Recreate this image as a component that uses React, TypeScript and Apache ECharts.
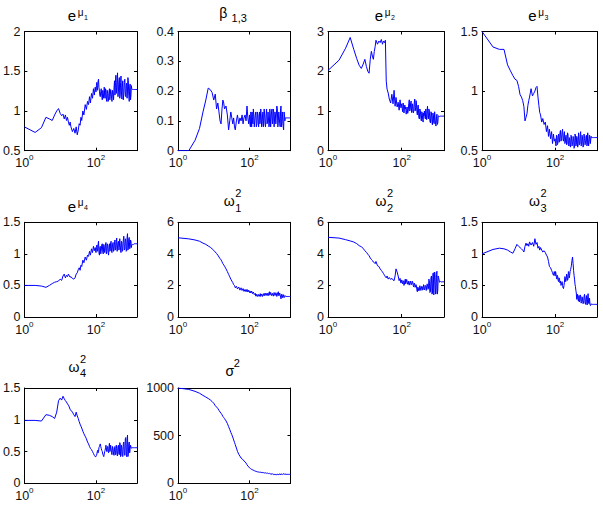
import React, { useEffect, useRef } from "react";
import * as echarts from "echarts";

// ---------- DATA ----------
const iterations = [
  1, 2, 3, 4, 5, 6, 7, 8, 9, 10,
  11, 12, 13, 14, 15, 16, 17, 18, 19, 20,
  22, 24, 26, 28, 30, 32, 34, 36, 38, 40,
  43, 46, 50, 54, 58, 62, 66, 70, 75, 80,
  85, 90, 95,
  100, 103, 106, 109, 112, 115, 118, 121, 125, 128,
  132, 136, 140, 145, 150, 155, 160, 165, 170, 175,
  180, 185, 190, 195, 200, 206, 212, 218, 225, 231,
  238, 244, 250, 257, 265, 272, 280, 290, 300, 310,
  320, 330, 340, 350, 360, 370, 380, 390, 400, 412,
  425, 437, 450, 462, 475, 487, 500, 515, 530, 545,
  560, 580, 600, 620, 640, 660, 680, 700, 720, 740,
  760, 780, 800, 825, 850, 875, 900, 925, 950, 975,
  1000, 1060, 1120, 1180, 1250, 1320, 1400,
];

const eMu1 = [
  0.8, 0.73, 0.79, 0.92, 0.9, 0.88, 0.95, 1.0, 1.03, 0.97,
  0.94, 0.96, 0.9, 0.95, 0.88, 0.92, 0.86, 0.82, 0.86, 0.8,
  0.74, 0.78, 0.72, 0.8, 0.7, 0.76, 0.84, 0.82, 0.92, 0.88,
  1.0, 0.95, 1.08, 1.02, 1.12, 1.08, 1.18, 1.1, 1.22, 1.16,
  1.28, 1.2, 1.3,
  1.24, 1.32, 1.36, 1.26, 1.3, 1.38, 1.4, 1.3, 1.25, 1.2,
  1.18, 1.24, 1.28, 1.2, 1.14, 1.26, 1.22, 1.16, 1.3, 1.2,
  1.16, 1.28, 1.26, 1.15, 1.12, 1.26, 1.22, 1.12, 1.15, 1.24,
  1.28, 1.14, 1.18, 1.27, 1.24, 1.16, 1.12, 1.26, 1.22, 1.14,
  1.3, 1.38, 1.2, 1.36, 1.45, 1.22, 1.3, 1.4, 1.48, 1.18,
  1.25, 1.38, 1.42, 1.16, 1.2, 1.36, 1.44, 1.24, 1.15, 1.3,
  1.38, 1.14, 1.22, 1.36, 1.4, 1.2, 1.18, 1.32, 1.35, 1.16,
  1.25, 1.42, 1.38, 1.2, 1.12, 1.3, 1.34, 1.14, 1.2, 1.32,
  1.28, 1.27, 1.27, 1.27, 1.27, 1.27, 1.27,
];

const beta13 = [
  0, 0, 0.035, 0.075, 0.13, 0.17, 0.21, 0.205, 0.195, 0.17,
  0.19, 0.14, 0.16, 0.13, 0.1, 0.09, 0.14, 0.17, 0.16, 0.14,
  0.15, 0.12, 0.07, 0.1, 0.13, 0.11, 0.09, 0.11, 0.08, 0.07,
  0.1, 0.12, 0.09, 0.11, 0.1, 0.12, 0.09, 0.11, 0.12, 0.1,
  0.15, 0.11, 0.09,
  0.12, 0.09, 0.08, 0.13, 0.11, 0.08, 0.13, 0.1, 0.09, 0.14,
  0.12, 0.08, 0.1, 0.12, 0.13, 0.08, 0.09, 0.13, 0.12, 0.09,
  0.08, 0.12, 0.13, 0.09, 0.1, 0.14, 0.12, 0.08, 0.09, 0.12,
  0.13, 0.08, 0.1, 0.14, 0.12, 0.09, 0.08, 0.12, 0.14, 0.09,
  0.1, 0.13, 0.13, 0.08, 0.09, 0.14, 0.12, 0.08, 0.08, 0.13,
  0.14, 0.09, 0.1, 0.14, 0.13, 0.08, 0.08, 0.13, 0.12, 0.09,
  0.09, 0.15, 0.14, 0.08, 0.1, 0.13, 0.13, 0.09, 0.08, 0.14,
  0.15, 0.08, 0.09, 0.13, 0.13, 0.08, 0.07, 0.13, 0.12, 0.1,
  0.11, 0.11, 0.11, 0.11, 0.11, 0.11, 0.11,
];

const eMu2 = [
  2.02, 2.28, 2.58, 2.85, 2.55, 2.32, 2.15, 2.07, 2.18, 2.3,
  2.12, 2.0, 1.95, 2.3, 2.5, 2.38, 2.3, 2.5, 2.62, 2.78,
  2.68, 2.76, 2.72, 2.8, 2.68, 2.76, 2.72, 2.78, 1.75, 1.55,
  1.45, 1.3, 1.2, 1.42, 1.18, 1.52, 1.12, 1.34, 1.1, 1.22,
  1.02, 1.28, 1.08,
  1.18, 1.06, 0.98, 1.2, 1.12, 0.95, 0.96, 1.15, 1.05, 1.1,
  0.92, 1.02, 1.1, 0.94, 1.0, 1.18, 1.28, 1.0, 1.05, 1.22,
  1.25, 0.96, 0.98, 1.18, 1.12, 0.95, 1.0, 1.2, 1.3, 1.0,
  1.08, 1.26, 1.22, 0.98, 0.9, 1.1, 1.15, 0.85, 0.8, 1.05,
  1.0, 0.82, 0.75, 0.98, 0.95, 0.78, 0.72, 0.95, 0.88, 1.0,
  0.85, 0.8, 1.05, 0.9, 0.78, 1.0, 1.12, 0.85, 0.8, 1.05,
  1.0, 0.75, 0.7, 0.98, 0.95, 0.72, 0.65, 0.95, 0.9, 0.7,
  0.68, 0.98, 0.85, 0.66, 0.62, 0.82, 0.92, 0.66, 0.7, 0.85,
  0.88, 0.86, 0.87, 0.87, 0.87, 0.87, 0.87,
];

const eMu3 = [
  1.5, 1.37, 1.35, 1.35, 1.22, 1.17, 1.13, 1.1, 1.09, 1.04,
  0.97, 0.95, 0.92, 0.87, 0.75, 0.78, 0.81, 0.88, 0.92, 0.95,
  1.02, 0.96, 0.98, 1.0, 1.03, 1.04, 0.95, 0.88, 0.82, 0.8,
  0.74, 0.77, 0.72, 0.74, 0.66, 0.71, 0.62, 0.68, 0.6, 0.66,
  0.56, 0.64, 0.58,
  0.6, 0.56, 0.54, 0.63, 0.62, 0.55, 0.56, 0.62, 0.64, 0.57,
  0.58, 0.65, 0.67, 0.58, 0.6, 0.66, 0.68, 0.59, 0.58, 0.64,
  0.66, 0.56, 0.57, 0.62, 0.63, 0.55, 0.56, 0.65, 0.64, 0.55,
  0.54, 0.61, 0.6, 0.54, 0.53, 0.63, 0.62, 0.54, 0.55, 0.62,
  0.6, 0.52, 0.53, 0.64, 0.63, 0.54, 0.55, 0.62, 0.61, 0.53,
  0.54, 0.65, 0.6, 0.55, 0.56, 0.64, 0.66, 0.54, 0.55, 0.63,
  0.62, 0.53, 0.54, 0.64, 0.6, 0.55, 0.56, 0.62, 0.63, 0.54,
  0.55, 0.65, 0.6, 0.54, 0.57, 0.63, 0.62, 0.56, 0.6, 0.62,
  0.61, 0.61, 0.61, 0.61, 0.61, 0.61, 0.61,
];

const eMu4 = [
  0.5, 0.5, 0.49, 0.47, 0.5, 0.53, 0.55, 0.56, 0.57, 0.6,
  0.58, 0.65, 0.68, 0.62, 0.66, 0.64, 0.68, 0.65, 0.63, 0.64,
  0.61, 0.6, 0.62, 0.68, 0.7, 0.75, 0.78, 0.74, 0.82, 0.8,
  0.9, 0.86, 0.95, 0.9, 0.98, 0.96, 1.04, 0.98, 1.08, 1.02,
  1.12, 1.05, 1.1,
  1.02, 1.1, 1.14, 1.04, 1.06, 1.16, 1.2, 1.02, 0.98, 1.1,
  1.12, 1.0, 1.04, 1.14, 1.16, 1.02, 1.0, 1.15, 1.12, 1.02,
  1.06, 1.16, 1.18, 1.0, 1.04, 1.16, 1.14, 1.02, 0.98, 1.12,
  1.16, 1.04, 1.05, 1.18, 1.2, 1.04, 1.02, 1.14, 1.18, 1.04,
  1.06, 1.2, 1.22, 1.06, 1.08, 1.2, 1.25, 1.04, 1.04, 1.18,
  1.2, 1.06, 1.1, 1.24, 1.24, 1.06, 1.02, 1.2, 1.18, 1.04,
  1.06, 1.22, 1.28, 1.06, 1.08, 1.24, 1.22, 1.04, 1.05, 1.26,
  1.32, 1.06, 1.08, 1.24, 1.26, 1.08, 1.1, 1.22, 1.2, 1.1,
  1.14, 1.15, 1.15, 1.16, 1.16, 1.16, 1.16,
];

const omega1Sq = [
  5.02, 4.95, 4.88, 4.8, 4.68, 4.6, 4.5, 4.42, 4.32, 4.22,
  4.12, 4.02, 3.92, 3.8, 3.7, 3.62, 3.5, 3.38, 3.3, 3.22,
  3.05, 2.88, 2.7, 2.55, 2.4, 2.28, 2.18, 2.05, 2.0, 1.85,
  1.95, 1.78, 1.9, 1.7, 1.85, 1.68, 1.8, 1.62, 1.75, 1.6,
  1.75, 1.58, 1.7,
  1.55, 1.65, 1.68, 1.52, 1.5, 1.64, 1.62, 1.48, 1.45, 1.58,
  1.55, 1.42, 1.4, 1.5, 1.32, 1.44, 1.45, 1.3, 1.3, 1.44,
  1.42, 1.3, 1.28, 1.42, 1.48, 1.3, 1.3, 1.46, 1.45, 1.3,
  1.32, 1.48, 1.5, 1.34, 1.35, 1.52, 1.55, 1.36, 1.38, 1.52,
  1.5, 1.34, 1.32, 1.54, 1.6, 1.38, 1.4, 1.56, 1.55, 1.36,
  1.35, 1.5, 1.52, 1.32, 1.3, 1.55, 1.58, 1.36, 1.4, 1.54,
  1.5, 1.3, 1.28, 1.55, 1.6, 1.34, 1.35, 1.52, 1.5, 1.25,
  1.15, 1.4, 1.45, 1.22, 1.2, 1.42, 1.4, 1.22, 1.3, 1.36,
  1.32, 1.3, 1.3, 1.3, 1.3, 1.3, 1.3,
];

const omega2Sq = [
  5.05, 5.0, 4.9, 4.82, 4.75, 4.65, 4.52, 4.45, 4.35, 4.2,
  4.1, 3.98, 3.88, 3.74, 3.65, 3.58, 3.48, 3.45, 3.38, 3.52,
  3.25, 3.2, 3.05, 2.95, 2.86, 2.75, 2.65, 2.55, 2.48, 2.6,
  2.4, 2.5, 2.38, 2.45, 2.35, 2.3, 2.6, 3.05, 2.85, 2.6,
  2.3, 2.45, 2.15,
  2.35, 2.15, 2.1, 2.3, 2.2, 2.0, 2.05, 2.3, 2.4, 2.1,
  2.2, 2.38, 2.35, 2.08, 2.05, 2.28, 2.25, 2.02, 2.0, 2.28,
  2.3, 2.05, 2.1, 2.26, 2.2, 1.95, 1.9, 2.15, 2.1, 1.88,
  1.85, 2.05, 2.0, 1.72, 1.6, 1.9, 1.85, 1.65, 1.7, 1.98,
  1.95, 1.68, 1.65, 1.95, 1.9, 1.7, 1.75, 2.05, 2.0, 1.72,
  1.8, 2.0, 1.95, 1.68, 1.7, 2.1, 2.05, 1.75, 1.8, 2.4,
  2.3, 1.55, 1.6, 2.5, 2.6, 1.45, 1.5, 2.75, 2.8, 1.4,
  1.4, 2.85, 2.7, 1.45, 1.5, 2.7, 2.9, 1.45, 1.7, 2.6,
  2.5, 2.2, 2.25, 2.22, 2.23, 2.23, 2.23,
];

const omega3Sq = [
  1.0, 1.07, 1.09, 1.08, 1.06, 1.03, 1.01, 1.08, 1.15, 1.12,
  1.1, 1.08, 1.06, 1.03, 1.12, 1.17, 1.13, 1.16, 1.12, 1.19,
  1.14, 1.18, 1.12, 1.24, 1.15, 1.18, 1.09, 1.12, 1.06, 1.1,
  1.06, 1.03, 1.05, 1.02, 0.98, 0.95, 0.88, 0.8, 0.78, 0.74,
  0.7, 0.66, 0.72,
  0.65, 0.72, 0.68, 0.62, 0.6, 0.66, 0.64, 0.58, 0.56, 0.62,
  0.6, 0.54, 0.57, 0.5, 0.52, 0.56, 0.5, 0.46, 0.45, 0.5,
  0.55, 0.64, 0.62, 0.56, 0.58, 0.68, 0.66, 0.58, 0.6, 0.72,
  0.7, 0.62, 0.66, 0.72, 0.75, 0.78, 0.82, 0.9, 0.95, 0.85,
  0.74, 0.66, 0.6, 0.52, 0.48, 0.42, 0.38, 0.28, 0.3, 0.36,
  0.27, 0.25, 0.34, 0.24, 0.26, 0.35, 0.33, 0.22, 0.24, 0.32,
  0.3, 0.21, 0.22, 0.33, 0.36, 0.22, 0.2, 0.3, 0.34, 0.2,
  0.19, 0.32, 0.37, 0.22, 0.21, 0.3, 0.2, 0.18, 0.19, 0.21,
  0.2, 0.2, 0.2, 0.2, 0.2, 0.2, 0.2,
];

const omega4Sq = [
  0.99, 0.99, 0.98, 1.08, 1.07, 1.05, 1.02, 1.12, 1.3, 1.34,
  1.31, 1.37, 1.33, 1.3, 1.28, 1.25, 1.23, 1.2, 1.16, 1.15,
  1.12, 1.08, 1.05, 1.12, 1.06, 1.02, 0.97, 0.93, 0.9, 0.87,
  0.82, 0.78, 0.74, 0.7, 0.65, 0.62, 0.58, 0.55, 0.53, 0.5,
  0.47, 0.44, 0.42,
  0.42, 0.44, 0.46, 0.5, 0.52, 0.48, 0.5, 0.56, 0.58, 0.6,
  0.62, 0.58, 0.55, 0.52, 0.5, 0.46, 0.44, 0.42, 0.46, 0.5,
  0.52, 0.56, 0.6, 0.54, 0.5, 0.56, 0.58, 0.5, 0.48, 0.58,
  0.63, 0.5, 0.52, 0.6, 0.6, 0.48, 0.45, 0.58, 0.55, 0.46,
  0.44, 0.56, 0.58, 0.45, 0.47, 0.6, 0.55, 0.44, 0.43, 0.58,
  0.6, 0.46, 0.45, 0.64, 0.62, 0.42, 0.44, 0.6, 0.56, 0.44,
  0.42, 0.62, 0.65, 0.44, 0.45, 0.7, 0.72, 0.44, 0.42, 0.68,
  0.76, 0.42, 0.45, 0.62, 0.65, 0.48, 0.55, 0.6, 0.57, 0.55,
  0.56, 0.56, 0.56, 0.56, 0.56, 0.56, 0.56,
];

const sigmaSq = [
  1000, 985, 965, 945, 922, 905, 890, 875, 858, 840,
  815, 800, 785, 765, 748, 735, 720, 702, 690, 678,
  655, 628, 595, 565, 535, 510, 485, 455, 430, 405,
  370, 335, 305, 285, 265, 258, 245, 235, 225, 212,
  195, 182, 172,
  162, 158, 155, 152, 148, 147, 144, 141, 139, 137,
  135, 132, 130, 128, 126, 124, 122, 121, 120, 118,
  118, 117, 116, 118, 117, 114, 113, 116, 115, 112,
  110, 113, 112, 109, 108, 111, 110, 106, 105, 108,
  107, 103, 102, 106, 104, 99, 98, 102, 101, 96,
  94, 100, 99, 92, 90, 98, 96, 88, 86, 94,
  92, 89, 88, 96, 95, 89, 90, 101, 100, 87,
  88, 99, 98, 91, 92, 102, 100, 93, 94, 97,
  95, 94, 94, 94, 94, 94, 94,
];

const xTickValues = [1, 100];

// y ranges: [min, max, step]
const yRanges = [
  [0.5, 2, 0.5],
  [0, 0.4, 0.1],
  [0, 3, 1],
  [0.5, 1.5, 0.5],
  [0, 1.5, 0.5],
  [0, 6, 2],
  [0, 6, 2],
  [0, 1.5, 0.5],
  [0, 1.5, 0.5],
  [0, 1000, 500],
];

const seriesList = [eMu1, beta13, eMu2, eMu3, eMu4, omega1Sq, omega2Sq, omega3Sq, omega4Sq, sigmaSq];

// ---------- LAYOUT / STYLE ----------
const FONT = '"Liberation Sans", Arial, Helvetica, sans-serif';
const COLS = [
  [21, 137],
  [178, 290.5],
  [328, 444],
  [482, 597],
];
const ROWS = [
  [31.5, 150.7],
  [222.3, 317],
  [388, 483.3],
];

type Part = { t: string; dx: number; dy: number; s: number };
const eMuTitle = (k: string): Part[] => [
  { t: "e", dx: -7, dy: -16, s: 15 },
  { t: "\u03bc", dx: 1.5, dy: -19.5, s: 10 },
  { t: k, dx: 7, dy: -14.5, s: 7 },
];
const omegaTitle = (k: string): Part[] => [
  { t: "\u03c9", dx: -5, dy: -21.5, s: 14 },
  { t: "2", dx: 4, dy: -29.5, s: 11 },
  { t: k, dx: 4, dy: -14.8, s: 11 },
];
const titles: Part[][] = [
  eMuTitle("1"),
  [
    { t: "\u03b2", dx: -11, dy: -18.5, s: 14 },
    { t: "1,3", dx: 5, dy: -13.5, s: 11 },
  ],
  eMuTitle("2"),
  eMuTitle("3"),
  eMuTitle("4"),
  omegaTitle("1"),
  omegaTitle("2"),
  omegaTitle("3"),
  omegaTitle("4"),
  [
    { t: "\u03c3", dx: -4.5, dy: -16.7, s: 14 },
    { t: "2", dx: 2.5, dy: -25, s: 11 },
  ],
];

export default function App() {
  const ref = useRef<HTMLDivElement>(null);
  useEffect(() => {
    if (!ref.current) return;
    const chart = echarts.init(ref.current, undefined, { renderer: "svg" });
    const grids: any[] = [];
    const xAxes: any[] = [];
    const yAxes: any[] = [];
    const series: any[] = [];
    const graphics: any[] = [];
    const lineStyle = { color: "#000", width: 1 };
    const logFmt = (v: number) => `{b|10}{s|${Math.round(Math.log10(v))}}`;

    seriesList.forEach((ys, i) => {
      const r = Math.floor(i / 4);
      const c = i % 4;
      const [l, rt] = COLS[c];
      const [t, b] = ROWS[r];
      grids.push({ left: l, top: t, width: rt - l, height: b - t, containLabel: false });
      const [ymin, ymax, ystep] = yRanges[i];
      const baseX = {
        gridIndex: i,
        type: "log",
        logBase: 10,
        min: 1,
        max: 1400,
        splitLine: { show: false },
        minorTick: { show: false },
        axisLine: { show: true, onZero: false, lineStyle },
        axisTick: { show: true, inside: true, length: 3, customValues: xTickValues, lineStyle },
      };
      xAxes.push({
        ...baseX,
        position: "bottom",
        axisLabel: {
          show: true,
          customValues: xTickValues,
          margin: 3,
          formatter: logFmt,
          rich: {
            b: { fontSize: 12.5, fontFamily: FONT, color: "#111", verticalAlign: "bottom", lineHeight: 16 },
            s: { fontSize: 8, fontFamily: FONT, color: "#111", verticalAlign: "top" },
          },
        },
      });
      xAxes.push({ ...baseX, position: "top", axisLabel: { show: false } });
      const baseY = {
        gridIndex: i,
        type: "value",
        min: ymin,
        max: ymax,
        interval: ystep,
        splitLine: { show: false },
        axisLine: { show: true, onZero: false, lineStyle },
        axisTick: { show: true, inside: true, length: 3, lineStyle },
      };
      yAxes.push({
        ...baseY,
        position: "left",
        axisLabel: {
          show: true,
          margin: 4,
          fontSize: 12.5,
          fontFamily: FONT,
          color: "#111",
          formatter: (v: number) => String(+v.toFixed(4)),
        },
      });
      yAxes.push({ ...baseY, position: "right", axisLabel: { show: false } });
      series.push({
        type: "line",
        xAxisIndex: 2 * i,
        yAxisIndex: 2 * i,
        data: iterations.map((x, k) => [x, ys[k]]),
        showSymbol: false,
        symbol: "none",
        silent: true,
        lineStyle: { color: "#0000ff", width: 1 },
      });
      const cx = (l + rt) / 2;
      titles[i].forEach((p) => {
        graphics.push({
          type: "text",
          x: cx + p.dx,
          y: t + p.dy,
          silent: true,
          style: {
            text: p.t,
            font: `${p.s}px ${FONT}`,
            fill: "#000",
            textAlign: "center",
            align: "center",
            textVerticalAlign: "middle",
            verticalAlign: "middle",
          },
        });
      });
    });

    chart.setOption({
      animation: false,
      backgroundColor: "#fff",
      grid: grids,
      xAxis: xAxes,
      yAxis: yAxes,
      series,
      graphic: graphics,
    });
    return () => chart.dispose();
  }, []);
  return (
    <div
      ref={ref}
      style={{ position: "absolute", left: 0, top: 0, width: 603, height: 520, background: "#fff" }}
    />
  );
}
